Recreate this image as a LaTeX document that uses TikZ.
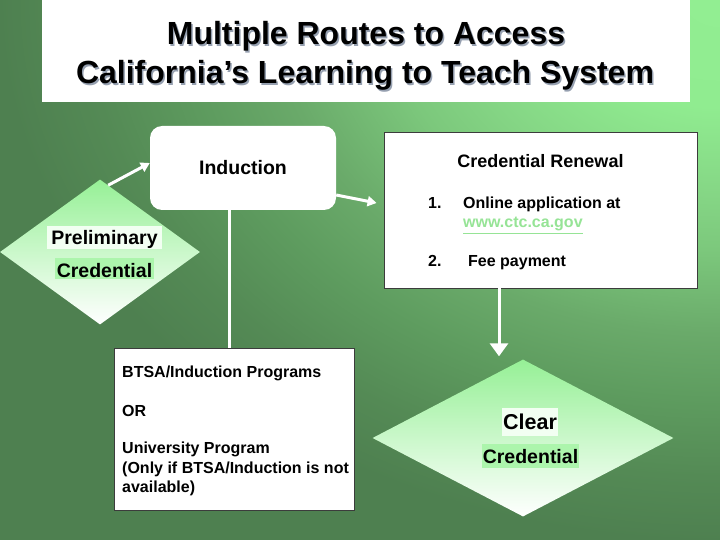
\documentclass[tikz,border=0pt]{standalone}
\usepackage{fontspec}
\setmainfont{Liberation Sans}
\usetikzlibrary{shapes.geometric,arrows.meta}
\definecolor{bgA}{RGB}{146,238,146}
\definecolor{bgB}{RGB}{144,236,144}
\definecolor{bgC}{RGB}{133,214,133}
\definecolor{bgD}{RGB}{124,200,124}
\definecolor{bgE}{RGB}{106,170,106}
\definecolor{bgF}{RGB}{94,156,95}
\definecolor{bgG}{RGB}{84,138,85}
\definecolor{bgH}{RGB}{78,128,80}
\definecolor{dlight}{RGB}{150,240,150}
\definecolor{hlgreen}{RGB}{172,245,172}
\definecolor{hlwhite}{RGB}{242,255,242}
\definecolor{linkgreen}{RGB}{150,228,150}
\definecolor{shadowgray}{RGB}{150,160,176}
\definecolor{boxedge}{RGB}{60,60,60}
\pgfdeclareradialshading{bgshade}{\pgfpoint{0bp}{0bp}}{color(0bp)=(bgA); color(3.3bp)=(bgB); color(6bp)=(bgC); color(7.7bp)=(bgD); color(10.3bp)=(bgE); color(12.3bp)=(bgF); color(14.7bp)=(bgG); color(16.7bp)=(bgH); color(50bp)=(bgH)}
\newcommand{\myfs}[1]{\fontsize{#1}{#1}\selectfont\bfseries}
\begin{document}
\begin{tikzpicture}[x=1pt,y=-1pt,
  whitebox/.style={draw=boxedge, line width=0.8pt, fill=white, rectangle, inner sep=0pt},
  decision/.style={diamond, inner sep=0pt, shading=axis, top color=dlight, bottom color=white, draw=none},
  txt/.style={inner sep=0pt, anchor=base west, text=black, font={\myfs{16}}},
  ctxt/.style={inner sep=0pt, anchor=base, text=black},
  hl/.style={anchor=base, inner ysep=2pt, text=black},
  flow/.style={draw=white, line width=3pt},
  arr/.style={flow, -{Triangle[width=10pt,length=9pt]}},
  bigarr/.style={flow, -{Triangle[width=18pt,length=13pt]}},
]
\useasboundingbox (0,0) rectangle (720,540);
\begin{scope}
  \clip (0,0) rectangle (720,540);
  \shade[shading=bgshade] (720,0) ellipse (1080pt and 810pt);
\end{scope}

% title
\node[fill=white, minimum width=648pt, minimum height=102pt, inner sep=0pt] (titlebox) at (366,51) {};
\node[ctxt, text=shadowgray, font={\myfs{32}}] (t1s) at (367.5,46.5) {Multiple Routes to Access};
\node[ctxt, font={\myfs{32}}] (t1) at (366,45) {Multiple Routes to Access};
\node[ctxt, text=shadowgray, font={\myfs{32}}] (t2s) at (366.5,85.5) {California’s Learning to Teach System};
\node[ctxt, font={\myfs{32}}] (t2) at (365,84) {California’s Learning to Teach System};

% shapes
\node[decision, minimum width=200pt, minimum height=145pt] (pre) at (100,252) {};
\node[fill=white, rounded corners=12pt, minimum width=186pt, minimum height=84pt, inner sep=0pt, font={\myfs{19.5}}] (ind) at (243,168) {Induction};
\node[whitebox, minimum width=313pt, minimum height=156pt] (ren) at (540.5,210) {};
\node[whitebox, minimum width=240pt, minimum height=162pt] (btsa) at (234,429) {};
\node[decision, minimum width=301pt, minimum height=157pt] (clear) at (523,438) {};

% diamond labels
\node[hl, fill=hlwhite, inner xsep=4pt, text height=16pt, text depth=3pt, font={\myfs{19.5}}] (preA) at (104.5,244) {Preliminary};
\node[hl, fill=hlgreen, inner xsep=1.5pt, text height=17pt, text depth=0pt, font={\myfs{19.5}}] (preB) at (104.5,277) {Credential};
\node[hl, fill=hlwhite, inner xsep=1.5pt, text height=19pt, text depth=5pt, font={\myfs{21.5}}] (clA) at (530,429) {Clear};
\node[hl, fill=hlgreen, inner xsep=0.5pt, text height=17pt, text depth=3pt, font={\myfs{19.5}}] (clB) at (530.5,463) {Credential};

% renewal text
\node[ctxt, font={\myfs{18}}] (renT) at (540.5,168) {Credential Renewal};
\node[txt] (nA) at (428,209) {1.};
\node[txt] (oA) at (463,209) {Online application at};
\node[txt, text=linkgreen] (url) at (463,228) {\underline{www.ctc.ca.gov}};
\node[txt] (nB) at (428,266) {2.};
\node[txt] (oB) at (468,266) {Fee payment};

% BTSA text
\node[txt] (bA) at (122,377) {BTSA/Induction Programs};
\node[txt] (bB) at (122,416) {OR};
\node[txt] (bC) at (122,453) {University Program};
\node[txt] (bD) at (122,473) {(Only if BTSA/Induction is not};
\node[txt] (bE) at (122,492) {available)};

% connectors
\coordinate (vtop) at ([xshift=-14pt]ind.south);
\coordinate (dtop) at ([xshift=-41.5pt]ren.south);
\draw[arr] (pre.83) -- ([yshift=5pt]ind.west);
\draw[arr] ([yshift=-27pt]ind.east) -- ([xshift=-7pt,yshift=7pt]ren.west);
\draw[flow] (vtop) -- (vtop |- btsa.north);
\draw[bigarr, shorten >=3pt] (dtop) -- (dtop |- clear.north);
\end{tikzpicture}
\end{document}
